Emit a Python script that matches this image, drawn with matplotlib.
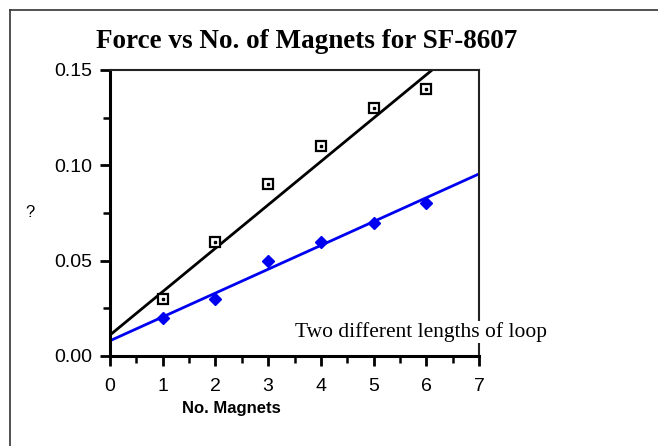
import matplotlib
matplotlib.use("Agg")
import matplotlib.pyplot as plt
from matplotlib.lines import Line2D
from matplotlib.ticker import MultipleLocator, FormatStrFormatter
import numpy as np

# data
magnets = [1, 2, 3, 4, 5, 6]
force_long = [0.03, 0.06, 0.09, 0.11, 0.13, 0.14]
force_short = [0.02, 0.03, 0.05, 0.06, 0.07, 0.08]

# fitted lines (slope, intercept) as drawn
fit_long = (0.02275, 0.011)
fit_short = (0.0125, 0.008)

fig = plt.figure(figsize=(6.58, 4.46), dpi=100)
ax = fig.add_axes([110 / 658, 1 - 356 / 446, 369 / 658, 286 / 446])

xs = np.linspace(0, 7, 50)
ax.plot(xs, fit_long[0] * xs + fit_long[1], color="black", lw=2, zorder=2)
ax.plot(xs, fit_short[0] * xs + fit_short[1], color="#0000f0", lw=2, zorder=2)

ax.plot(magnets, force_long, ls="none", marker="s", ms=7, mfc="white",
        mec="black", mew=1.6, zorder=3)
ax.plot(magnets, force_long, ls="none", marker="s", ms=2, mfc="black",
        mec="black", zorder=4)
ax.plot(magnets, force_short, ls="none", marker="D", ms=6.5, mfc="#0000f0",
        mec="#0000f0", zorder=3)

ax.set_xlim(0, 7)
ax.set_ylim(0, 0.15)
ax.xaxis.set_major_locator(MultipleLocator(1))
ax.xaxis.set_minor_locator(MultipleLocator(0.5))
ax.yaxis.set_major_locator(MultipleLocator(0.05))
ax.yaxis.set_minor_locator(MultipleLocator(0.025))
ax.yaxis.set_major_formatter(FormatStrFormatter("%.2f"))

for side in ["left", "bottom"]:
    ax.spines[side].set_linewidth(2.2)
for side in ["top", "right"]:
    ax.spines[side].set_linewidth(1.5)
    ax.spines[side].set_color("#222222")

ax.tick_params(which="major", direction="out", length=7.5, width=2,
               labelsize=14, pad=5)
ax.tick_params(axis="x", which="major", pad=8)
ax.tick_params(which="minor", direction="out", length=5, width=1.8)
for lab in ax.get_xticklabels() + ax.get_yticklabels():
    lab.set_family("Liberation Sans")

fig.text(231 / 658, 1 - 408 / 446, "No. Magnets", ha="center", va="center",
         fontsize=12, fontweight="bold", family="Liberation Sans")

fig.text(307 / 658, 1 - 48 / 446, "Force vs No. of Magnets for SF-8607",
         ha="center", va="baseline", fontsize=19.5, fontweight="bold",
         family="Liberation Serif")
fig.text(295 / 658, 1 - 337 / 446, "Two different lengths of loop",
         ha="left", va="baseline", fontsize=15.5, family="Liberation Serif",
         zorder=5, bbox=dict(facecolor="white", edgecolor="none", pad=1))
fig.text(30 / 658, 1 - 212 / 446, "?", ha="center", va="center",
         fontsize=12, family="Liberation Sans")

# page border
fig.add_artist(Line2D([10 / 658, 10 / 658], [0, 1 - 10 / 446],
                      transform=fig.transFigure, color="#333333", lw=1.2))
fig.add_artist(Line2D([10 / 658, 1], [1 - 10 / 446, 1 - 10 / 446],
                      transform=fig.transFigure, color="#333333", lw=1.2))

fig.savefig("out.png", dpi=100)
